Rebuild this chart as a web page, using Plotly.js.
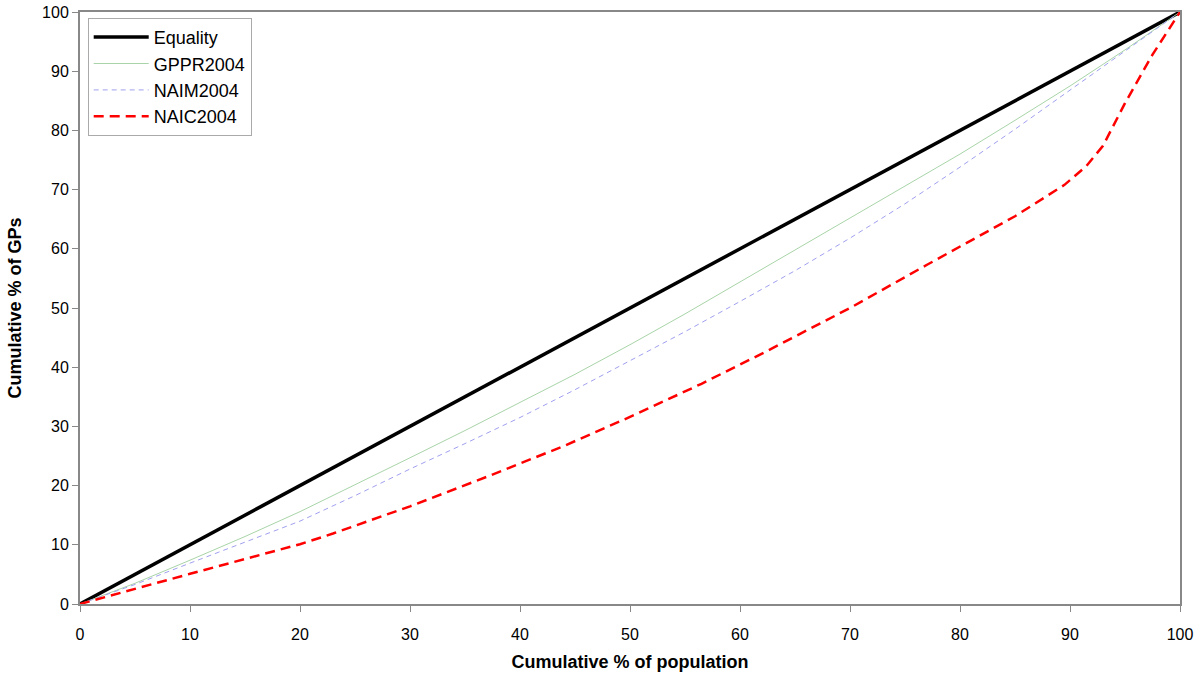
<!DOCTYPE html>
<html>
<head>
<meta charset="utf-8">
<script src="https://cdn.plot.ly/plotly-3.0.1.min.js"></script>
<style>html,body{margin:0;padding:0;background:#fff;}#chart{width:1200px;height:680px;}</style>
</head>
<body>
<div id="chart"></div>
<script>
const equalityX = [0, 100];
const equalityY = [0, 100];

const gpprX = [0, 5, 10, 15, 20, 25, 30, 35, 40, 45, 50, 55, 60, 65, 70, 75, 80, 85, 90, 95, 100];
const gpprY = [0, 3.5, 7.4, 11.4, 15.6, 20.1, 24.7, 29.3, 34.0, 38.8, 43.8, 49.0, 54.4, 59.8, 65.2, 70.6, 76.0, 81.7, 87.5, 93.6, 100];

const naimX = [0, 5, 10, 15, 20, 25, 30, 35, 40, 45, 50, 55, 60, 65, 70, 75, 80, 85, 90, 95, 100];
const naimY = [0, 3.3, 6.9, 10.4, 14.0, 18.3, 22.8, 27.1, 31.5, 36.2, 41.1, 46.0, 51.1, 56.3, 61.8, 67.6, 73.8, 80.2, 86.8, 93.4, 100];

const naicX = [0, 5, 10, 15, 20, 23, 30, 37, 44, 50, 56.5, 62, 70, 77, 81, 85, 89.5, 91.5, 93, 95, 97.5, 100];
const naicY = [0, 2.6, 5.1, 7.6, 10.1, 11.9, 16.5, 21.5, 26.7, 31.6, 37.2, 42.3, 50.0, 57.3, 61.4, 65.5, 70.8, 74.0, 77.4, 84.6, 92.8, 100];

const traces = [
  {x: equalityX, y: equalityY, name: 'Equality', mode: 'lines', line: {color: '#000000', width: 3.5}},
  {x: gpprX, y: gpprY, name: 'GPPR2004', mode: 'lines', line: {color: '#a8d4a8', width: 1}},
  {x: naimX, y: naimY, name: 'NAIM2004', mode: 'lines', line: {color: '#a0a0f0', width: 1, dash: '5px,4px'}},
  {x: naicX, y: naicY, name: 'NAIC2004', mode: 'lines', line: {color: '#ff0000', width: 2.5, dash: '10px,6px'}}
];

const layout = {
  width: 1200, height: 680,
  margin: {l: 80, r: 20, t: 12, b: 76},
  paper_bgcolor: '#ffffff', plot_bgcolor: '#ffffff',
  font: {family: 'Arial, "Liberation Sans", sans-serif', size: 16, color: '#000'},
  showlegend: true,
  legend: {
    x: 0.007, y: 0.99, xanchor: 'left', yanchor: 'top',
    bgcolor: '#ffffff', bordercolor: '#aaaaaa', borderwidth: 1,
    font: {size: 18, color: '#000'}, itemwidth: 55, tracegroupgap: 0
  },
  xaxis: {
    range: [0, 100], dtick: 10, tick0: 0,
    showgrid: false, zeroline: false,
    showline: true, linecolor: '#888888', linewidth: 2, mirror: true,
    ticks: 'outside', ticklen: 6, tickcolor: '#888888', tickwidth: 1,
    ticklabelstandoff: 9,
    tickfont: {size: 16, color: '#000'},
    title: {text: '<b>Cumulative % of population</b>', font: {size: 18, color: '#000'}, standoff: 13}
  },
  yaxis: {
    range: [0, 100], dtick: 10, tick0: 0,
    showgrid: false, zeroline: false,
    showline: true, linecolor: '#888888', linewidth: 2, mirror: true,
    ticks: 'outside', ticklen: 6, tickcolor: '#888888', tickwidth: 1,
    tickfont: {size: 16, color: '#000'},
    title: {text: '<b>Cumulative % of GPs</b>', font: {size: 18, color: '#000'}, standoff: 16}
  }
};

Plotly.newPlot('chart', traces, layout, {displayModeBar: false, staticPlot: true});
</script>
</body>
</html>
